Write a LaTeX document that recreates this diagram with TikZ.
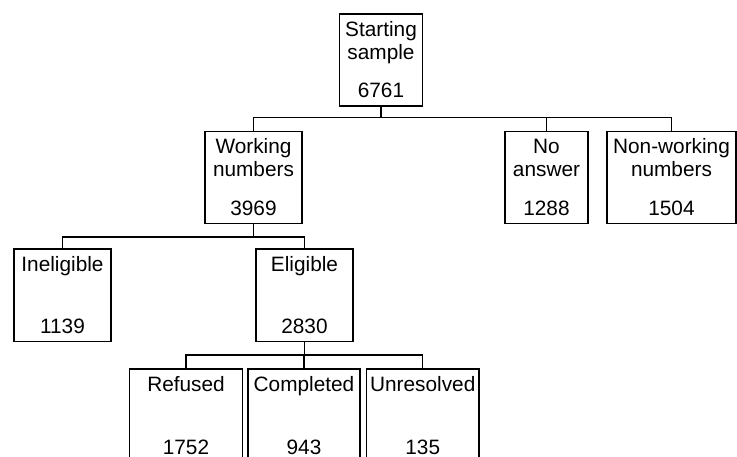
\documentclass[tikz,border=0pt]{standalone}
\usepackage{fontspec}
\setmainfont{Liberation Sans}
\tikzset{
  box/.style={draw, line width=1.4pt, inner sep=0pt, outer sep=0pt},
  txt/.style={anchor=base, inner sep=0pt, outer sep=0pt, font=\fontsize{20.8}{24}\selectfont},
  conn/.style={line width=1.4pt, line join=miter}
}
% name, x1, x2, ytop, ybot, line1, line2, number
\newcommand\boxtwo[8]{%
  \node[box, minimum width={(#3-#2)*1pt}, minimum height={(#5-#4)*1pt}] (#1) at ({(#2+#3)/2},{(#4+#5)/2}) {};
  \node[txt] (#1a) at ([yshift=-22.5pt]#1.north) {#6};
  \node[txt] (#1b) at ([yshift=-45.5pt]#1.north) {#7};
  \node[txt] (#1n) at ([yshift=8pt]#1.south) {#8};
}
% name, x1, x2, ytop, ybot, line1, number
\newcommand\boxone[7]{%
  \node[box, minimum width={(#3-#2)*1pt}, minimum height={(#5-#4)*1pt}] (#1) at ({(#2+#3)/2},{(#4+#5)/2}) {};
  \node[txt] (#1a) at ([yshift=-22.5pt]#1.north) {#6};
  \node[txt] (#1n) at ([yshift=8pt]#1.south) {#7};
}
\begin{document}
\begin{tikzpicture}[x=1pt, y=-1pt]
\useasboundingbox (0,0) rectangle (737,457);
\boxtwo{ss}{339.5}{422.5}{14}{106}{Starting}{sample}{6761}
\boxtwo{wn}{205}{302}{131.5}{223.5}{Working}{numbers}{3969}
\boxtwo{na}{505}{588}{131.5}{223.5}{No}{answer}{1288}
\boxtwo{nw}{607}{736}{131.5}{223.5}{Non-working}{numbers}{1504}
\boxone{ie}{14}{111}{249}{341.5}{Ineligible}{1139}
\boxone{el}{256}{353}{249}{341.5}{Eligible}{2830}
\boxone{rf}{129.5}{242.5}{369}{462}{Refused}{1752}
\boxone{cp}{248}{360}{369}{462}{Completed}{943}
\boxone{ur}{366.5}{479}{369}{462}{Unresolved}{135}
\foreach \c in {wn,na,nw}
  \draw[conn] (ss.south) -- ([yshift=-11.5pt]ss.south) -| (\c.north);
\foreach \c in {ie,el}
  \draw[conn] (wn.south) -- ([yshift=-13.5pt]wn.south) -| (\c.north);
\foreach \c in {rf,cp,ur}
  \draw[conn] (el.south) -- ([yshift=-13.5pt]el.south) -| (\c.north);
\end{tikzpicture}
\end{document}
